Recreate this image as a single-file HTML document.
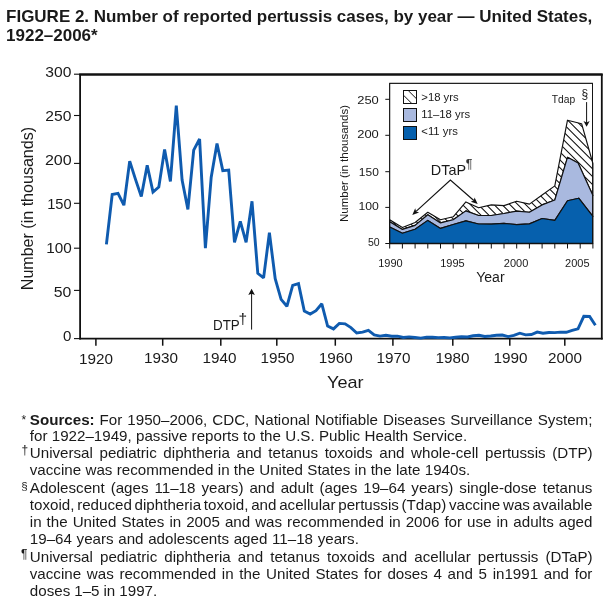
<!DOCTYPE html><html><head><meta charset="utf-8"><title>FIGURE 2</title><style>
html,body{margin:0;padding:0;background:#fff}body{width:613px;height:608px;position:relative;overflow:hidden;font-family:"Liberation Sans",Arial,Helvetica,sans-serif;color:#1a1a1a}
.t{position:absolute;left:6.1px;white-space:nowrap;font-weight:bold;font-size:17px;letter-spacing:-0.02px;line-height:20px}
.f{position:absolute;left:29.8px;white-space:nowrap;font-size:15.15px;line-height:18px;height:18px}
.s{position:absolute;white-space:nowrap;line-height:14px}
</style></head><body>
<svg width="613" height="608" viewBox="0 0 613 608" style="position:absolute;left:0;top:0">
<defs><clipPath id="hc"><polygon points="389.7,219.8 402.4,227.5 415.1,222.5 427.8,212.3 440.5,219.8 453.2,216.8 465.9,201.9 478.6,207.8 491.3,204.9 504.0,205.6 516.7,201.2 529.4,204.1 542.1,195.0 554.8,185.9 567.5,120.2 581.6,123.7 592.9,163.5 592.9,195.6 578.1,163.0 567.5,157.3 554.8,200.0 542.1,204.9 529.4,212.3 516.7,211.1 504.0,213.5 491.3,215.5 478.6,215.5 465.9,210.9 453.2,219.7 440.5,222.9 427.8,214.8 415.1,225.4 402.4,229.4 389.7,221.8"/></clipPath></defs>
<g stroke="#111" fill="none">
<line x1="79.3" y1="74.5" x2="602.7" y2="74.5" stroke-width="2.6"/>
<line x1="80.1" y1="74" x2="80.1" y2="339.4" stroke-width="1.8"/>
<line x1="601.8" y1="74" x2="601.8" y2="339.4" stroke-width="1.8"/>
<line x1="79.3" y1="338.6" x2="602.7" y2="338.6" stroke-width="1.7"/>
<line x1="74" y1="74.2" x2="80" y2="74.2" stroke-width="1.1"/>
<line x1="74" y1="115.5" x2="80" y2="115.5" stroke-width="1.1"/>
<line x1="74" y1="163.4" x2="80" y2="163.4" stroke-width="1.1"/>
<line x1="74" y1="203.3" x2="80" y2="203.3" stroke-width="1.1"/>
<line x1="74" y1="248.2" x2="80" y2="248.2" stroke-width="1.1"/>
<line x1="74" y1="290.4" x2="80" y2="290.4" stroke-width="1.1"/>
<line x1="74" y1="338.6" x2="80" y2="338.6" stroke-width="1.1"/>
<line x1="95.9" y1="338.6" x2="95.9" y2="345.7" stroke-width="1.5"/>
<line x1="162.7" y1="338.6" x2="162.7" y2="345.7" stroke-width="1.5"/>
<line x1="220.8" y1="338.6" x2="220.8" y2="345.7" stroke-width="1.5"/>
<line x1="276.8" y1="338.6" x2="276.8" y2="345.7" stroke-width="1.5"/>
<line x1="335.3" y1="338.6" x2="335.3" y2="345.7" stroke-width="1.5"/>
<line x1="392.9" y1="338.6" x2="392.9" y2="345.7" stroke-width="1.5"/>
<line x1="452.8" y1="338.6" x2="452.8" y2="345.7" stroke-width="1.5"/>
<line x1="509.8" y1="338.6" x2="509.8" y2="345.7" stroke-width="1.5"/>
<line x1="564.8" y1="338.6" x2="564.8" y2="345.7" stroke-width="1.5"/>
</g>
<g font-family="Liberation Sans, Arial, Helvetica, sans-serif" font-size="14" fill="#1a1a1a">
<text x="45.3" y="76.8" textLength="26.1" lengthAdjust="spacingAndGlyphs">300</text>
<text x="45.3" y="120.8" textLength="26.1" lengthAdjust="spacingAndGlyphs">250</text>
<text x="44.9" y="165.0" textLength="26.8" lengthAdjust="spacingAndGlyphs">200</text>
<text x="47.2" y="209.0" textLength="24.4" lengthAdjust="spacingAndGlyphs">150</text>
<text x="46.2" y="252.9" textLength="25.5" lengthAdjust="spacingAndGlyphs">100</text>
<text x="53.8" y="296.5" textLength="17.6" lengthAdjust="spacingAndGlyphs">50</text>
<text x="63.1" y="341.0" textLength="8.4" lengthAdjust="spacingAndGlyphs">0</text>
<text x="78.9" y="364.0" textLength="34" lengthAdjust="spacingAndGlyphs">1920</text>
<text x="144.0" y="362.8" textLength="34" lengthAdjust="spacingAndGlyphs">1930</text>
<text x="202.4" y="362.8" textLength="34" lengthAdjust="spacingAndGlyphs">1940</text>
<text x="260.5" y="363" textLength="34" lengthAdjust="spacingAndGlyphs">1950</text>
<text x="318.7" y="363" textLength="34" lengthAdjust="spacingAndGlyphs">1960</text>
<text x="376.5" y="363" textLength="34" lengthAdjust="spacingAndGlyphs">1970</text>
<text x="435.6" y="363" textLength="34" lengthAdjust="spacingAndGlyphs">1980</text>
<text x="493.5" y="363" textLength="34" lengthAdjust="spacingAndGlyphs">1990</text>
<text x="548.1" y="363" textLength="34" lengthAdjust="spacingAndGlyphs">2000</text>
</g>
<text font-family="Liberation Sans, Arial, Helvetica, sans-serif" font-size="17" fill="#1a1a1a" x="327" y="387.8" textLength="36.5" lengthAdjust="spacingAndGlyphs">Year</text>
<text font-family="Liberation Sans, Arial, Helvetica, sans-serif" font-size="17" fill="#1a1a1a" transform="translate(33.2,290.2) rotate(-90)" textLength="163.3" lengthAdjust="spacingAndGlyphs">Number (in thousands)</text>
<polyline points="106.4,244.4 112.2,194.5 118.0,193.4 123.9,205.2 129.7,161.1 135.5,179.4 141.3,196.6 147.2,165.3 153.0,192.1 158.8,187.1 164.6,149.5 170.4,181.4 176.3,105.6 182.1,180.1 187.9,209.4 193.7,150.1 199.6,139.0 205.4,248.2 211.2,177.2 217.0,143.5 222.8,170.6 228.7,170.1 234.5,242.3 240.3,221.3 246.1,242.3 252.0,201.3 257.8,273.3 263.6,277.9 269.4,232.8 275.2,278.6 281.1,299.4 286.9,306.3 292.7,285.4 298.5,283.7 304.3,311.1 310.2,314.1 316.0,310.7 321.8,303.8 327.6,326.0 333.5,328.9 339.3,323.4 345.1,323.9 350.9,327.6 356.7,333.0 362.6,332.2 368.4,330.4 374.2,334.8 380.0,336.1 385.9,335.3 391.7,336.3 397.5,336.1 403.3,337.5 409.1,336.9 415.0,337.5 420.8,338.1 426.6,337.1 432.4,337.2 438.3,337.6 444.1,337.5 449.9,337.9 455.7,337.3 461.5,336.8 467.4,337.0 473.2,335.8 479.0,335.3 484.8,336.5 490.7,336.0 496.5,335.3 502.3,335.0 508.1,336.6 513.9,335.4 519.8,333.2 525.6,334.9 531.4,334.5 537.2,332.1 543.0,333.2 548.9,332.5 554.7,332.6 560.5,332.1 566.3,332.3 572.2,330.4 578.0,328.8 583.8,316.3 589.6,316.5 595.4,325.2" fill="none" stroke="#0f5baf" stroke-width="2.9" stroke-linejoin="miter" stroke-miterlimit="2"/>
<text font-family="Liberation Sans, Arial, Helvetica, sans-serif" font-size="14" fill="#1a1a1a" x="213" y="329.9" textLength="26.8" lengthAdjust="spacingAndGlyphs">DTP</text>
<text font-family="Liberation Sans, Arial, Helvetica, sans-serif" font-size="15.5" fill="#1a1a1a" x="238.6" y="323.6">†</text>
<line x1="251.6" y1="329.6" x2="251.6" y2="293" stroke="#111" stroke-width="1"/>
<path d="M251.6 288.8 L254.9 295 L251.6 293.8 L248.3 295 Z" fill="#111"/>
<rect x="389.7" y="83.3" width="202.8" height="160.2" fill="#fff" stroke="#111" stroke-width="0.85"/>
<polygon points="389.7,219.8 402.4,227.5 415.1,222.5 427.8,212.3 440.5,219.8 453.2,216.8 465.9,201.9 478.6,207.8 491.3,204.9 504.0,205.6 516.7,201.2 529.4,204.1 542.1,195.0 554.8,185.9 567.5,120.2 581.6,123.7 592.9,163.5 592.9,195.6 578.1,163.0 567.5,157.3 554.8,200.0 542.1,204.9 529.4,212.3 516.7,211.1 504.0,213.5 491.3,215.5 478.6,215.5 465.9,210.9 453.2,219.7 440.5,222.9 427.8,214.8 415.1,225.4 402.4,229.4 389.7,221.8" fill="#fff" stroke="none"/>
<path d="M385 -291.6L597 -79.6M385 -283.7L597 -71.7M385 -275.8L597 -63.8M385 -267.9L597 -55.9M385 -260.0L597 -48.0M385 -252.1L597 -40.1M385 -244.2L597 -32.2M385 -236.3L597 -24.3M385 -228.4L597 -16.4M385 -220.5L597 -8.5M385 -212.6L597 -0.6M385 -204.7L597 7.3M385 -196.8L597 15.2M385 -188.9L597 23.1M385 -181.0L597 31.0M385 -173.1L597 38.9M385 -165.2L597 46.8M385 -157.3L597 54.7M385 -149.4L597 62.6M385 -141.5L597 70.5M385 -133.6L597 78.4M385 -125.7L597 86.3M385 -117.8L597 94.2M385 -109.9L597 102.1M385 -102.0L597 110.0M385 -94.1L597 117.9M385 -86.2L597 125.8M385 -78.3L597 133.7M385 -70.4L597 141.6M385 -62.5L597 149.5M385 -54.6L597 157.4M385 -46.7L597 165.3M385 -38.8L597 173.2M385 -30.9L597 181.1M385 -23.0L597 189.0M385 -15.1L597 196.9M385 -7.2L597 204.8M385 0.7L597 212.7M385 8.6L597 220.6M385 16.5L597 228.5M385 24.4L597 236.4M385 32.3L597 244.3M385 40.2L597 252.2M385 48.1L597 260.1M385 56.0L597 268.0M385 63.9L597 275.9M385 71.8L597 283.8M385 79.7L597 291.7M385 87.6L597 299.6M385 95.5L597 307.5M385 103.4L597 315.4M385 111.3L597 323.3M385 119.2L597 331.2M385 127.1L597 339.1M385 135.0L597 347.0M385 142.9L597 354.9M385 150.8L597 362.8M385 158.7L597 370.7M385 166.6L597 378.6M385 174.5L597 386.5M385 182.4L597 394.4M385 190.3L597 402.3M385 198.2L597 410.2M385 206.1L597 418.1M385 214.0L597 426.0M385 221.9L597 433.9M385 229.8L597 441.8" stroke="#111" stroke-width="1.05" fill="none" clip-path="url(#hc)"/>
<polygon points="389.7,219.8 402.4,227.5 415.1,222.5 427.8,212.3 440.5,219.8 453.2,216.8 465.9,201.9 478.6,207.8 491.3,204.9 504.0,205.6 516.7,201.2 529.4,204.1 542.1,195.0 554.8,185.9 567.5,120.2 581.6,123.7 592.9,163.5 592.9,195.6 578.1,163.0 567.5,157.3 554.8,200.0 542.1,204.9 529.4,212.3 516.7,211.1 504.0,213.5 491.3,215.5 478.6,215.5 465.9,210.9 453.2,219.7 440.5,222.9 427.8,214.8 415.1,225.4 402.4,229.4 389.7,221.8" fill="none" stroke="#111" stroke-width="1.15" stroke-linejoin="round"/>
<polygon points="389.7,221.8 402.4,229.4 415.1,225.4 427.8,214.8 440.5,222.9 453.2,219.7 465.9,210.9 478.6,215.5 491.3,215.5 504.0,213.5 516.7,211.1 529.4,212.3 542.1,204.9 554.8,200.0 567.5,157.3 578.1,163.0 592.9,195.6 592.9,216.4 578.7,198.2 567.5,200.7 554.8,220.4 542.1,218.5 529.4,223.9 516.7,224.6 504.0,223.4 491.3,224.1 478.6,224.0 465.9,220.9 453.2,224.5 440.5,228.4 427.8,220.4 415.1,229.3 402.4,233.3 389.7,227.0" fill="#a9b9df" stroke="#111" stroke-width="1.15" stroke-linejoin="round"/>
<polygon points="389.7,227.0 402.4,233.3 415.1,229.3 427.8,220.4 440.5,228.4 453.2,224.5 465.9,220.9 478.6,224.0 491.3,224.1 504.0,223.4 516.7,224.6 529.4,223.9 542.1,218.5 554.8,220.4 567.5,200.7 578.7,198.2 592.9,216.4 592.9,243.5 389.7,243.5" fill="#0660ad" stroke="#111" stroke-width="1.15" stroke-linejoin="round"/>
<rect x="389.7" y="83.3" width="202.8" height="160.2" fill="none" stroke="#111" stroke-width="0.85"/>
<line x1="389.2" y1="243.5" x2="593" y2="243.5" stroke="#111" stroke-width="1.4"/>
<g stroke="#111" stroke-width="1">
<line x1="385.3" y1="99.3" x2="389.7" y2="99.3"/>
<line x1="385.3" y1="135.3" x2="389.7" y2="135.3"/>
<line x1="385.3" y1="171.7" x2="389.7" y2="171.7"/>
<line x1="385.3" y1="207.4" x2="389.7" y2="207.4"/>
<line x1="385.3" y1="243.5" x2="389.7" y2="243.5"/>
<line x1="389.7" y1="243.5" x2="389.7" y2="248.5"/>
<line x1="402.4" y1="243.5" x2="402.4" y2="248.5"/>
<line x1="415.1" y1="243.5" x2="415.1" y2="248.5"/>
<line x1="427.8" y1="243.5" x2="427.8" y2="248.5"/>
<line x1="440.5" y1="243.5" x2="440.5" y2="248.5"/>
<line x1="453.2" y1="243.5" x2="453.2" y2="248.5"/>
<line x1="465.9" y1="243.5" x2="465.9" y2="248.5"/>
<line x1="478.6" y1="243.5" x2="478.6" y2="248.5"/>
<line x1="491.3" y1="243.5" x2="491.3" y2="248.5"/>
<line x1="504.0" y1="243.5" x2="504.0" y2="248.5"/>
<line x1="516.7" y1="243.5" x2="516.7" y2="248.5"/>
<line x1="529.4" y1="243.5" x2="529.4" y2="248.5"/>
<line x1="542.1" y1="243.5" x2="542.1" y2="248.5"/>
<line x1="554.8" y1="243.5" x2="554.8" y2="248.5"/>
<line x1="567.5" y1="243.5" x2="567.5" y2="248.5"/>
<line x1="580.2" y1="243.5" x2="580.2" y2="248.5"/>
<line x1="592.9" y1="243.5" x2="592.9" y2="248.5"/>
</g>
<g font-family="Liberation Sans, Arial, Helvetica, sans-serif" font-size="11.8" fill="#1a1a1a">
<text x="357.2" y="104.1" textLength="21.6" lengthAdjust="spacingAndGlyphs">250</text>
<text x="357.2" y="138.2" textLength="21.6" lengthAdjust="spacingAndGlyphs">200</text>
<text x="358.8" y="176.1" textLength="20.0" lengthAdjust="spacingAndGlyphs">150</text>
<text x="358.4" y="209.7" textLength="20.4" lengthAdjust="spacingAndGlyphs">100</text>
<text x="368.0" y="245.5" textLength="11.7" lengthAdjust="spacingAndGlyphs">50</text>
</g>
<g font-family="Liberation Sans, Arial, Helvetica, sans-serif" font-size="11" fill="#1a1a1a" text-anchor="middle">
<text x="390.4" y="266.7">1990</text>
<text x="452.4" y="266.7">1995</text>
<text x="516.1" y="266.7">2000</text>
<text x="577.3" y="266.7">2005</text>
</g>
<text font-family="Liberation Sans, Arial, Helvetica, sans-serif" font-size="14" fill="#1a1a1a" x="476.2" y="281.7" textLength="28.4" lengthAdjust="spacingAndGlyphs">Year</text>
<text font-family="Liberation Sans, Arial, Helvetica, sans-serif" font-size="11.4" fill="#1a1a1a" transform="translate(348.4,222) rotate(-90)" textLength="117" lengthAdjust="spacingAndGlyphs">Number (in thousands)</text>
<rect x="403.5" y="90.5" width="13" height="13" fill="#fff" stroke="#111" stroke-width="1"/>
<path d="M403.5 95.2 L411.8 103.5 M408.2 90.5 L416.5 98.8" stroke="#111" stroke-width="1" fill="none"/>
<rect x="403.5" y="108.5" width="13" height="13" fill="#a9b9df" stroke="#111" stroke-width="1"/>
<rect x="403.5" y="126.5" width="13" height="13" fill="#0660ad" stroke="#111" stroke-width="1"/>
<g font-family="Liberation Sans, Arial, Helvetica, sans-serif" font-size="11.3" fill="#1a1a1a">
<text x="421.3" y="100.7">&gt;18 yrs</text>
<text x="421.3" y="117.5">11–18 yrs</text>
<text x="421.3" y="134.6">&lt;11 yrs</text>
</g>
<text font-family="Liberation Sans, Arial, Helvetica, sans-serif" font-size="14.5" fill="#1a1a1a" x="430.8" y="174.7" textLength="35.2" lengthAdjust="spacingAndGlyphs">DTaP</text>
<text font-family="Liberation Sans, Arial, Helvetica, sans-serif" font-size="12.5" fill="#333" x="465.8" y="168">¶</text>
<path d="M416.1 211.4L450.4 180L473.8 200.5" stroke="#111" stroke-width="1.15" fill="none" stroke-linejoin="miter"/>
<path d="M412.3 214.9L415.2 208.3L416.1 211.4L419.1 212.6ZM477.7 203.9L470.8 201.7L473.8 200.5L474.6 197.4Z" fill="#111"/>
<text font-family="Liberation Sans, Arial, Helvetica, sans-serif" font-size="11.5" fill="#1a1a1a" x="551.8" y="102.8" textLength="23.4" lengthAdjust="spacingAndGlyphs">Tdap</text>
<text font-family="Liberation Sans, Arial, Helvetica, sans-serif" font-size="12" fill="#1a1a1a" x="581.6" y="97.6">§</text>
<line x1="586.6" y1="102.1" x2="586.6" y2="123" stroke="#111" stroke-width="1"/>
<path d="M586.6 126.7 L583.5 121.1 L586.6 122.6 L589.7 121.1 Z" fill="#111"/>
</svg>
<div class="t" style="top:6.6px">FIGURE 2. Number of reported pertussis cases, by year — United States,</div>
<div class="t" style="top:26px">1922–2006*</div>
<div class="f" id="f0" style="top:410.7px;word-spacing:0.792px"><b>Sources:</b> For 1950–2006, CDC, National Notifiable Diseases Surveillance System;</div>
<div class="f" id="f1" style="top:427.1px;word-spacing:0.067px">for 1922–1949, passive reports to the U.S. Public Health Service.</div>
<div class="f" id="f2" style="top:444.1px;word-spacing:2.409px">Universal pediatric diphtheria and tetanus toxoids and whole-cell pertussis (DTP)</div>
<div class="f" id="f3" style="top:461.2px;word-spacing:0.106px">vaccine was recommended in the United States in the late 1940s.</div>
<div class="f" id="f4" style="top:479.0px;word-spacing:1.746px">Adolescent (ages 11–18 years) and adult (ages 19–64 years) single-dose tetanus</div>
<div class="f" id="f5" style="top:495.7px;word-spacing:-1.476px">toxoid, reduced diphtheria toxoid, and acellular pertussis (Tdap) vaccine was available</div>
<div class="f" id="f6" style="top:513.2px;word-spacing:0.809px">in the United States in 2005 and was recommended in 2006 for use in adults aged</div>
<div class="f" id="f7" style="top:530.4px;word-spacing:0.462px">19–64 years and adolescents aged 11–18 years.</div>
<div class="f" id="f8" style="top:547.6px;word-spacing:2.874px">Universal pediatric diphtheria and tetanus toxoids and acellular pertussis (DTaP)</div>
<div class="f" id="f9" style="top:565.0px;word-spacing:1.469px">vaccine was recommended in the United States for doses 4 and 5 in1991 and for</div>
<div class="f" id="f10" style="top:582.2px;word-spacing:-0.189px">doses 1–5 in 1997.</div>
<div class="s" style="left:21.6px;top:412.6px;font-size:12px">*</div>
<div class="s" style="left:21.4px;top:443.2px;font-size:12px">†</div>
<div class="s" style="left:21.2px;top:479px;font-size:11.5px">§</div>
<div class="s" style="left:21px;top:547.1px;font-size:12px">¶</div>
</body></html>
